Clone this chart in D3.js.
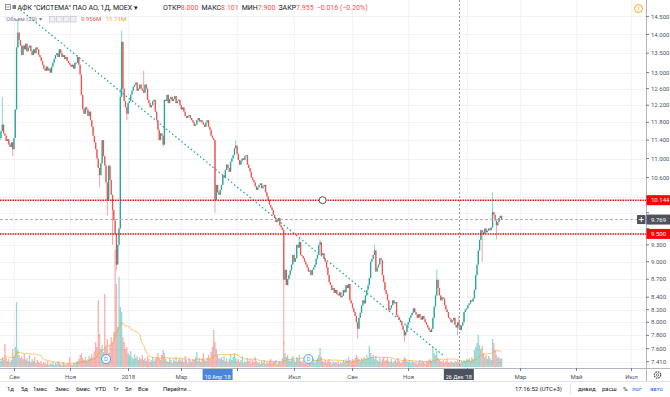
<!DOCTYPE html>
<html>
<head>
<meta charset="utf-8">
<script src="https://cdn.jsdelivr.net/npm/d3@7"></script>
<style>
html, body { margin: 0; padding: 0; background: #fff; }
svg { display: block; font-family: Roboto, "Noto Sans", sans-serif; }
</style>
</head>
<body>
<svg id="chart" width="670" height="397"></svg>
<script>
// daily closes, one per weekday starting 2017-08-17
var firstOpen = 11.40;
var closes = [
  11.45,11.60,11.75,11.55,11.50,11.38,11.42,11.30,11.25,11.35,
  11.20,11.45,12.10,13.65,14.05,13.85,13.70,13.45,13.70,13.60,
  13.75,13.55,13.65,13.70,13.55,13.45,13.60,13.50,13.65,13.60,
  13.45,13.40,13.30,13.20,13.10,13.05,13.15,13.05,13.10,13.00,
  13.15,13.25,13.35,13.45,13.50,13.40,13.60,13.50,13.40,13.45,
  13.35,13.40,13.30,13.25,13.20,13.15,13.20,13.10,13.25,13.25,
  13.40,13.20,12.95,12.45,12.10,12.00,12.15,12.10,11.95,12.05,
  11.85,11.70,11.50,11.35,11.20,11.00,10.80,10.65,10.90,11.40,
  11.05,10.85,10.50,10.15,10.85,10.55,10.25,9.95,9.75,9.50,
  8.95,9.30,9.60,12.40,13.80,12.60,12.30,12.15,12.00,12.25,
  12.30,12.45,12.55,12.65,12.70,12.75,12.55,12.60,12.70,12.60,
  12.55,12.50,12.70,12.60,12.33,12.25,12.15,12.20,12.30,12.33,
  12.05,11.85,11.63,11.40,11.55,11.50,11.30,12.33,12.30,12.45,
  12.25,12.35,12.40,12.30,12.35,12.42,12.25,12.30,12.33,12.20,
  12.10,12.15,12.05,11.95,11.90,11.95,11.97,11.90,11.85,11.80,
  11.72,11.75,11.85,11.90,11.82,11.85,11.80,11.75,11.70,11.80,
  11.85,11.70,11.63,11.50,11.45,11.40,10.15,10.45,10.30,10.25,
  10.35,10.45,10.65,10.60,10.76,10.87,10.80,10.72,10.93,11.00,
  11.07,11.22,11.28,11.10,10.97,10.87,10.95,11.00,10.97,11.05,
  11.07,10.87,10.80,10.72,10.60,10.55,10.50,10.42,10.35,10.40,
  10.45,10.48,10.38,10.42,10.45,10.30,10.22,10.15,10.05,10.00,
  9.95,9.86,9.80,9.72,9.75,9.80,9.66,9.62,9.57,8.69,
  8.86,8.60,8.70,8.77,8.85,8.95,9.12,9.00,9.06,9.30,
  9.25,9.35,9.12,9.10,9.06,9.00,8.95,8.90,8.83,8.85,
  8.77,8.86,8.90,8.95,9.05,9.12,9.30,9.35,9.12,9.15,
  9.06,9.00,8.90,8.77,8.65,8.60,8.52,8.55,8.47,8.52,
  8.45,8.43,8.48,8.40,8.42,8.52,8.48,8.60,8.55,8.62,
  8.35,8.30,8.22,8.16,8.10,8.00,7.90,8.07,8.15,8.27,
  8.35,8.30,8.43,8.52,8.60,8.72,9.00,9.05,9.12,9.20,
  8.83,8.90,8.95,9.06,9.03,8.77,8.65,8.52,8.45,8.35,
  8.19,8.22,8.27,8.35,8.30,8.32,8.11,8.08,8.04,8.00,
  7.95,7.88,7.80,7.85,7.96,8.00,8.07,8.11,8.15,8.22,
  8.16,8.12,8.07,8.13,8.08,8.04,8.10,8.05,8.00,7.96,
  7.92,7.88,7.85,7.90,8.07,8.25,8.43,8.69,8.55,8.43,
  8.35,8.40,8.38,8.27,8.20,8.16,8.07,8.05,8.00,8.03,
  8.07,7.96,7.92,8.00,7.955,7.88,7.95,8.00,8.16,8.20,
  8.22,8.27,8.30,8.35,8.33,8.38,8.52,8.77,8.95,9.20,
  9.39,9.57,9.53,9.50,9.60,9.53,9.56,9.60,9.57,9.62,
  9.91,9.86,9.75,9.66,9.72,9.80,9.84,9.769
];

// volume in millions, same days
var volumes = [
  16,12,20,14,46,18,12,16,10,14,
  36,20,40,130,34,24,18,22,16,26,
  14,18,12,24,10,16,12,20,8,14,
  10,8,12,6,10,8,6,12,4,8,
  6,10,4,8,6,12,8,6,4,10,
  6,4,8,6,20,6,4,8,6,10,
  12,16,24,28,18,14,20,12,16,22,
  18,26,20,32,50,40,134,66,36,44,
  30,146,40,56,28,44,60,50,70,234,
  166,80,180,120,110,60,50,36,40,28,
  24,32,20,16,26,18,22,14,20,16,
  24,14,18,12,22,16,10,14,20,12,
  16,20,28,18,14,24,34,28,16,12,
  10,18,14,8,16,12,20,10,14,18,
  12,16,10,22,14,8,18,12,10,16,
  14,20,30,12,18,10,16,28,14,12,
  18,24,16,30,40,74,50,36,24,18,
  16,20,14,22,12,18,10,16,26,14,
  20,28,18,12,16,10,14,22,8,12,
  10,18,12,16,8,14,10,20,12,8,
  10,6,12,8,14,6,10,8,12,16,
  8,12,10,14,6,10,12,8,18,50,
  28,20,24,16,12,18,22,14,10,20,
  16,24,12,10,14,8,12,6,10,8,
  12,10,16,8,14,18,24,38,20,12,
  10,14,8,12,16,10,6,12,8,10,
  8,12,6,10,8,14,10,16,12,20,
  14,10,16,12,18,24,20,16,12,18,
  14,20,16,24,18,42,28,20,24,16,
  22,14,12,18,10,16,20,12,14,18,
  12,10,16,8,12,14,10,18,12,8,
  10,14,20,16,12,10,14,8,12,10,
  8,12,6,10,14,8,12,10,6,12,
  10,14,16,12,40,28,24,32,18,14,
  12,10,14,8,12,16,10,8,12,10,
  8,12,10,14,9.956,8,12,10,14,12,
  16,14,18,12,20,16,34,40,48,64,
  44,36,42,28,20,24,16,22,18,14,
  56,48,34,24,18,20,16,18
];

// notable wicks: [day index, high, low]
var wicks = [
  [2, 12.40, null], [10, null, 11.05], [14, 14.40, null], [60, 13.45, null],
  [77, null, 10.40], [83, null, 9.85], [87, null, 9.30], [90, null, 8.85],
  [93, 12.60, null], [94, 14.10, null], [98, null, 11.85], [111, 13.05, null],
  [126, null, 11.25], [166, null, 9.90], [182, 11.40, null], [219, 9.60, 7.65],
  [231, 9.45, null], [247, 9.40, null], [276, null, 7.75], [289, 9.30, null],
  [312, null, 7.70], [337, 8.86, null], [353, null, 7.80], [354, 8.101, 7.90],
  [372, null, 9.00], [380, 10.30, null], [383, null, 9.40]
];

var priceTicks = [14.5, 14, 13.5, 13, 12.6, 12.2, 11.8, 11.4, 11, 10.6, 10.2, 9.9, 9.6, 9.3, 9, 8.7, 8.4, 8.2, 8, 7.8, 7.6, 7.41];
var monthTicks = ["2017-09-01", "2017-11-01", "2018-01-03", "2018-03-01", "2018-05-01", "2018-07-02",
                  "2018-09-03", "2018-11-01", "2019-01-03", "2019-03-01", "2019-05-01", "2019-07-01"];
var monthLabels = ["Сен", "Ноя", "2018", "Мар", "Май", "Июл", "Сен", "Ноя", "2019", "Мар", "Май", "Июл"];

var levels = [10.144, 9.5];
var levelHandleDate = "2018-08-01";
var crossPrice = 9.769;
var crossDate = "2018-12-26";
var crossDateLabel = "26 Дек '18";
var markDate = "2018-04-10";
var markDateLabel = "10 Апр '18";
var trendPoints = [["2017-09-08", 14.69], ["2018-12-10", 7.50]];
var dividendDates = ["2017-12-11", "2018-07-17"];

var W = 670, H = 397, plotW = 646, plotH = 368;

// weekday calendar -> bar index
var days = d3.timeDay.range(new Date(2017, 7, 17), new Date(2019, 8, 1))
    .filter(function(d) { var w = d.getDay(); return w > 0 && w < 6; });
var fmt = d3.timeFormat("%Y-%m-%d");
var indexOf = {};
days.forEach(function(d, i) { indexOf[fmt(d)] = i; });

var x = d3.scaleLinear().domain([0, 500]).range([-0.3, 648.2]);
var y = d3.scaleLog().domain([7.32, 14.97]).range([plotH, 0]);
var yVol = d3.scaleLinear().domain([0, 234]).range([plotH - 1, 250]);

var bars = closes.map(function(c, i) {
    var o = i === 0 ? firstOpen : closes[i - 1];
    return { i: i, o: o, c: c, h: Math.max(o, c), l: Math.min(o, c), v: volumes[i], up: c >= o };
});
wicks.forEach(function(w) {
    var b = bars[w[0]];
    if (w[1] != null) b.h = Math.max(b.h, w[1]);
    if (w[2] != null) b.l = Math.min(b.l, w[2]);
});
var ma = bars.map(function(b, i) {
    return { i: i, v: d3.mean(bars.slice(Math.max(0, i - 19), i + 1), function(d) { return d.v; }) };
});

var svg = d3.select('#chart');
svg.append('rect').attr('width', W).attr('height', H).attr('fill', '#fff');

svg.append('defs').append('clipPath').attr('id', 'plot')
    .append('rect').attr('width', plotW).attr('height', plotH);

var plot = svg.append('g').attr('clip-path', 'url(#plot)');

// grid
plot.selectAll('line.hg').data(priceTicks).enter().append('line')
    .attr('x1', 0).attr('x2', plotW)
    .attr('y1', function(d) { return Math.round(y(d)) + 0.5; })
    .attr('y2', function(d) { return Math.round(y(d)) + 0.5; })
    .attr('stroke', '#f0f3fa');
plot.selectAll('line.vg').data(monthTicks).enter().append('line')
    .attr('x1', function(d) { return Math.round(x(indexOf[d])) + 0.5; })
    .attr('x2', function(d) { return Math.round(x(indexOf[d])) + 0.5; })
    .attr('y1', 0).attr('y2', plotH)
    .attr('stroke', '#f0f3fa');

// volume
plot.selectAll('rect.vol').data(bars).enter().append('rect')
    .attr('x', function(d) { return x(d.i) - 0.65; })
    .attr('width', 1.3)
    .attr('y', function(d) { return yVol(d.v); })
    .attr('height', function(d) { return yVol(0) - yVol(d.v); })
    .attr('fill', function(d) { return d.up ? 'rgba(38,166,154,0.45)' : 'rgba(239,83,80,0.45)'; });

plot.append('path').datum(ma)
    .attr('d', d3.line().x(function(d) { return x(d.i); }).y(function(d) { return yVol(d.v); }))
    .attr('fill', 'none').attr('stroke', 'rgba(255,152,0,0.55)').attr('stroke-width', 1);

// candles
plot.selectAll('rect.wick').data(bars).enter().append('rect')
    .attr('x', function(d) { return x(d.i) - 0.5; })
    .attr('width', 1)
    .attr('y', function(d) { return y(d.h); })
    .attr('height', function(d) { return Math.max(1, y(d.l) - y(d.h)); })
    .attr('fill', function(d) { return d.up ? '#8fd3cc' : '#f5a3a1'; });
plot.selectAll('rect.body').data(bars).enter().append('rect')
    .attr('x', function(d) { return x(d.i) - 0.65; })
    .attr('width', 1.3)
    .attr('y', function(d) { return y(Math.max(d.o, d.c)); })
    .attr('height', function(d) { return Math.max(0.8, y(Math.min(d.o, d.c)) - y(Math.max(d.o, d.c))); })
    .attr('fill', function(d) { return d.up ? '#26a69a' : '#ef5350'; });

// trend line
plot.append('line')
    .attr('x1', x(indexOf[trendPoints[0][0]])).attr('y1', y(trendPoints[0][1]))
    .attr('x2', x(indexOf[trendPoints[1][0]])).attr('y2', y(trendPoints[1][1]))
    .attr('stroke', '#26a69a').attr('stroke-width', 1.3).attr('stroke-dasharray', '1.5,2.5');

// horizontal levels
plot.selectAll('line.lvl').data(levels).enter().append('line')
    .attr('x1', 0).attr('x2', plotW)
    .attr('y1', function(d) { return y(d); }).attr('y2', function(d) { return y(d); })
    .attr('stroke', '#ff0000').attr('stroke-width', 1.5).attr('stroke-dasharray', '1.5,1');
plot.append('circle')
    .attr('cx', x(indexOf[levelHandleDate])).attr('cy', y(levels[0])).attr('r', 3.5)
    .attr('fill', '#fff').attr('stroke', '#555').attr('stroke-width', 1);

// crosshair
plot.append('line')
    .attr('x1', 0).attr('x2', plotW).attr('y1', y(crossPrice)).attr('y2', y(crossPrice))
    .attr('stroke', '#c4a4a9').attr('stroke-dasharray', '3,2');
plot.append('line')
    .attr('x1', Math.round(x(indexOf[crossDate])) + 0.5).attr('x2', Math.round(x(indexOf[crossDate])) + 0.5)
    .attr('y1', 0).attr('y2', plotH)
    .attr('stroke', '#9598a1').attr('stroke-dasharray', '2,2');

// dividend markers
var divG = plot.selectAll('g.div').data(dividendDates).enter().append('g')
    .attr('transform', function(d) { return 'translate(' + x(indexOf[d]) + ',' + (plotH - 9) + ')'; });
divG.append('circle').attr('r', 4.5).attr('fill', '#fff').attr('stroke', '#4a9ff0').attr('stroke-width', 1);
divG.append('text').attr('text-anchor', 'middle').attr('dy', 2.2).attr('font-size', 6)
    .attr('fill', '#4a9ff0').text('D');

// legend
var lg = svg.append('g').attr('font-size', 7);
lg.append('rect').attr('x', 5.5).attr('y', 4.5).attr('width', 5).attr('height', 5)
    .attr('fill', 'none').attr('stroke', '#787b86').attr('stroke-width', 0.8);
lg.append('line').attr('x1', 6.5).attr('x2', 9.5).attr('y1', 7).attr('y2', 7).attr('stroke', '#787b86').attr('stroke-width', 0.8);
lg.append('rect').attr('x', 12.5).attr('y', 5).attr('width', 3.5).attr('height', 4).attr('fill', '#787b86');
lg.append('text').attr('x', 17.5).attr('y', 10).attr('fill', '#131722')
    .text('АФК "СИСТЕМА" ПАО АО, 1Д, MOEX ▾');
var ohlc = lg.append('text').attr('x', 163).attr('y', 10).attr('fill', '#131722');
[['ОТКР', '8.000'], ['МАКС', '8.101'], ['МИН', '7.900'], ['ЗАКР', '7.955']].forEach(function(p, k) {
    ohlc.append('tspan').attr('dx', k === 0 ? 0 : 3).text(p[0]);
    ohlc.append('tspan').attr('fill', '#ef5350').text(p[1]);
});
ohlc.append('tspan').attr('dx', 3).attr('fill', '#ef5350').text('−0.016 (−0.20%)');

lg.append('text').attr('x', 6).attr('y', 21).attr('font-size', 6).attr('fill', '#787b86').text('Объем (20) ▾');
lg.selectAll('rect.ic').data([0, 1, 2, 3]).enter().append('rect')
    .attr('x', function(d) { return 49.5 + d * 7; }).attr('y', 16.5).attr('width', 5.5).attr('height', 5.5)
    .attr('fill', '#f0f1f4').attr('stroke', '#c3c6ce').attr('stroke-width', 0.7);
lg.append('text').attr('x', 81).attr('y', 21).attr('font-size', 6).attr('fill', '#ef5350').text('9.956M');
lg.append('text').attr('x', 106).attr('y', 21).attr('font-size', 6).attr('fill', '#ff9800').text('11.11M');

// alert icon top right
svg.append('circle').attr('cx', 638.5).attr('cy', 8.5).attr('r', 4)
    .attr('fill', 'none').attr('stroke', '#ff9800').attr('stroke-width', 0.9);
svg.append('text').attr('x', 638.5).attr('y', 11).attr('text-anchor', 'middle')
    .attr('font-size', 6.5).attr('fill', '#ff9800').text('!');

// price axis; tick labels under a price label are hidden, as in the terminal
var labelPrices = levels.concat([crossPrice]);
var shownTicks = priceTicks.filter(function(t) {
    return labelPrices.every(function(p) { return Math.abs(y(t) - y(p)) > 7; });
});
var ax = svg.append('g').attr('font-size', 6).attr('fill', '#4c525e');
ax.append('line').attr('x1', plotW + 0.5).attr('x2', plotW + 0.5).attr('y1', 0).attr('y2', 381)
    .attr('stroke', '#b2b5be');
var pt = ax.selectAll('g.pt').data(priceTicks).enter().append('g')
    .attr('transform', function(d) { return 'translate(0,' + y(d) + ')'; });
pt.append('line').attr('x1', plotW).attr('x2', plotW + 3).attr('stroke', '#787b86');
ax.selectAll('text.pt').data(shownTicks).enter().append('text')
    .attr('x', 651).attr('y', function(d) { return y(d) + 2.1; }).text(d3.format('.3f'));

// price labels for levels and crosshair
function priceLabel(v, fill) {
    var g = svg.append('g').attr('transform', 'translate(0,' + y(v) + ')');
    g.append('rect').attr('x', plotW + 0.5).attr('y', -5).attr('width', W - plotW).attr('height', 10).attr('fill', fill);
    g.append('text').attr('x', 651).attr('dy', 2.1).attr('font-size', 6).attr('fill', '#fff').text(d3.format('.3f')(v));
    return g;
}
levels.forEach(function(v) { priceLabel(v, '#ff0000'); });
var cl = priceLabel(crossPrice, '#50535e');
cl.append('rect').attr('x', 637).attr('y', -4.5).attr('width', 8.5).attr('height', 9).attr('fill', '#50535e');
cl.append('path').attr('d', 'M638.8,0H643.8M641.3,-2.5V2.5').attr('stroke', '#fff').attr('stroke-width', 0.9);

// time axis; month labels under a date label are hidden
var labelDates = [markDate, crossDate];
var tx = svg.append('g').attr('font-size', 6).attr('fill', '#4c525e');
tx.append('line').attr('x1', 0).attr('x2', W).attr('y1', plotH + 0.5).attr('y2', plotH + 0.5).attr('stroke', '#b2b5be');
var mt = tx.selectAll('g.mt').data(monthTicks).enter().append('g')
    .attr('transform', function(d) { return 'translate(' + (Math.round(x(indexOf[d])) + 0.5) + ',0)'; });
mt.append('line').attr('y1', plotH).attr('y2', plotH + 3).attr('stroke', '#787b86');
mt.filter(function(d) {
    return labelDates.every(function(k) { return Math.abs(x(indexOf[d]) - x(indexOf[k])) > 24; });
}).append('text').attr('y', 379).attr('text-anchor', 'middle')
    .text(function(d) { return monthLabels[monthTicks.indexOf(d)]; });

function dateLabel(dateKey, txt, fill) {
    var cx = x(indexOf[dateKey]);
    svg.append('rect').attr('x', cx - 15).attr('y', plotH + 1).attr('width', 30).attr('height', 11).attr('fill', fill);
    svg.append('text').attr('x', cx).attr('y', 378.5).attr('text-anchor', 'middle')
        .attr('font-size', 5.5).attr('fill', '#fff').text(txt);
}
dateLabel(markDate, markDateLabel, '#4a86d8');
dateLabel(crossDate, crossDateLabel, '#4c525e');

// settings gear in the corner
svg.append('circle').attr('cx', 657.5).attr('cy', 375).attr('r', 3.2)
    .attr('fill', 'none').attr('stroke', '#50535e').attr('stroke-width', 1.3).attr('stroke-dasharray', '1.6,0.9');
svg.append('circle').attr('cx', 657.5).attr('cy', 375).attr('r', 1.2)
    .attr('fill', 'none').attr('stroke', '#50535e').attr('stroke-width', 0.7);

// bottom toolbar
var tb = svg.append('g').attr('font-size', 6).attr('fill', '#131722');
tb.append('line').attr('x1', 0).attr('x2', W).attr('y1', 381.5).attr('y2', 381.5).attr('stroke', '#e0e3eb');
var ranges = [['1д', 7], ['5д', 21], ['1мес', 33], ['3мес', 55], ['6мес', 76], ['YTD', 95], ['1г', 113], ['5л', 125], ['Все', 138], ['Перейти...', 163]];
tb.selectAll('text.r').data(ranges).enter().append('text')
    .attr('x', function(d) { return d[1]; }).attr('y', 391).text(function(d) { return d[0]; });
tb.append('text').attr('x', 515).attr('y', 391).text('17:16:52 (UTC+3)');
tb.append('line').attr('x1', 570.5).attr('x2', 570.5).attr('y1', 384).attr('y2', 394).attr('stroke', '#e0e3eb');
tb.append('text').attr('x', 578).attr('y', 391).text('дивид');
tb.append('text').attr('x', 602).attr('y', 391).text('расш');
tb.append('text').attr('x', 623).attr('y', 391).text('%');
tb.append('text').attr('x', 632).attr('y', 391).attr('fill', '#2962ff').text('лог');
tb.append('text').attr('x', 650).attr('y', 391).attr('fill', '#2962ff').text('авто');
</script>
</body>
</html>
